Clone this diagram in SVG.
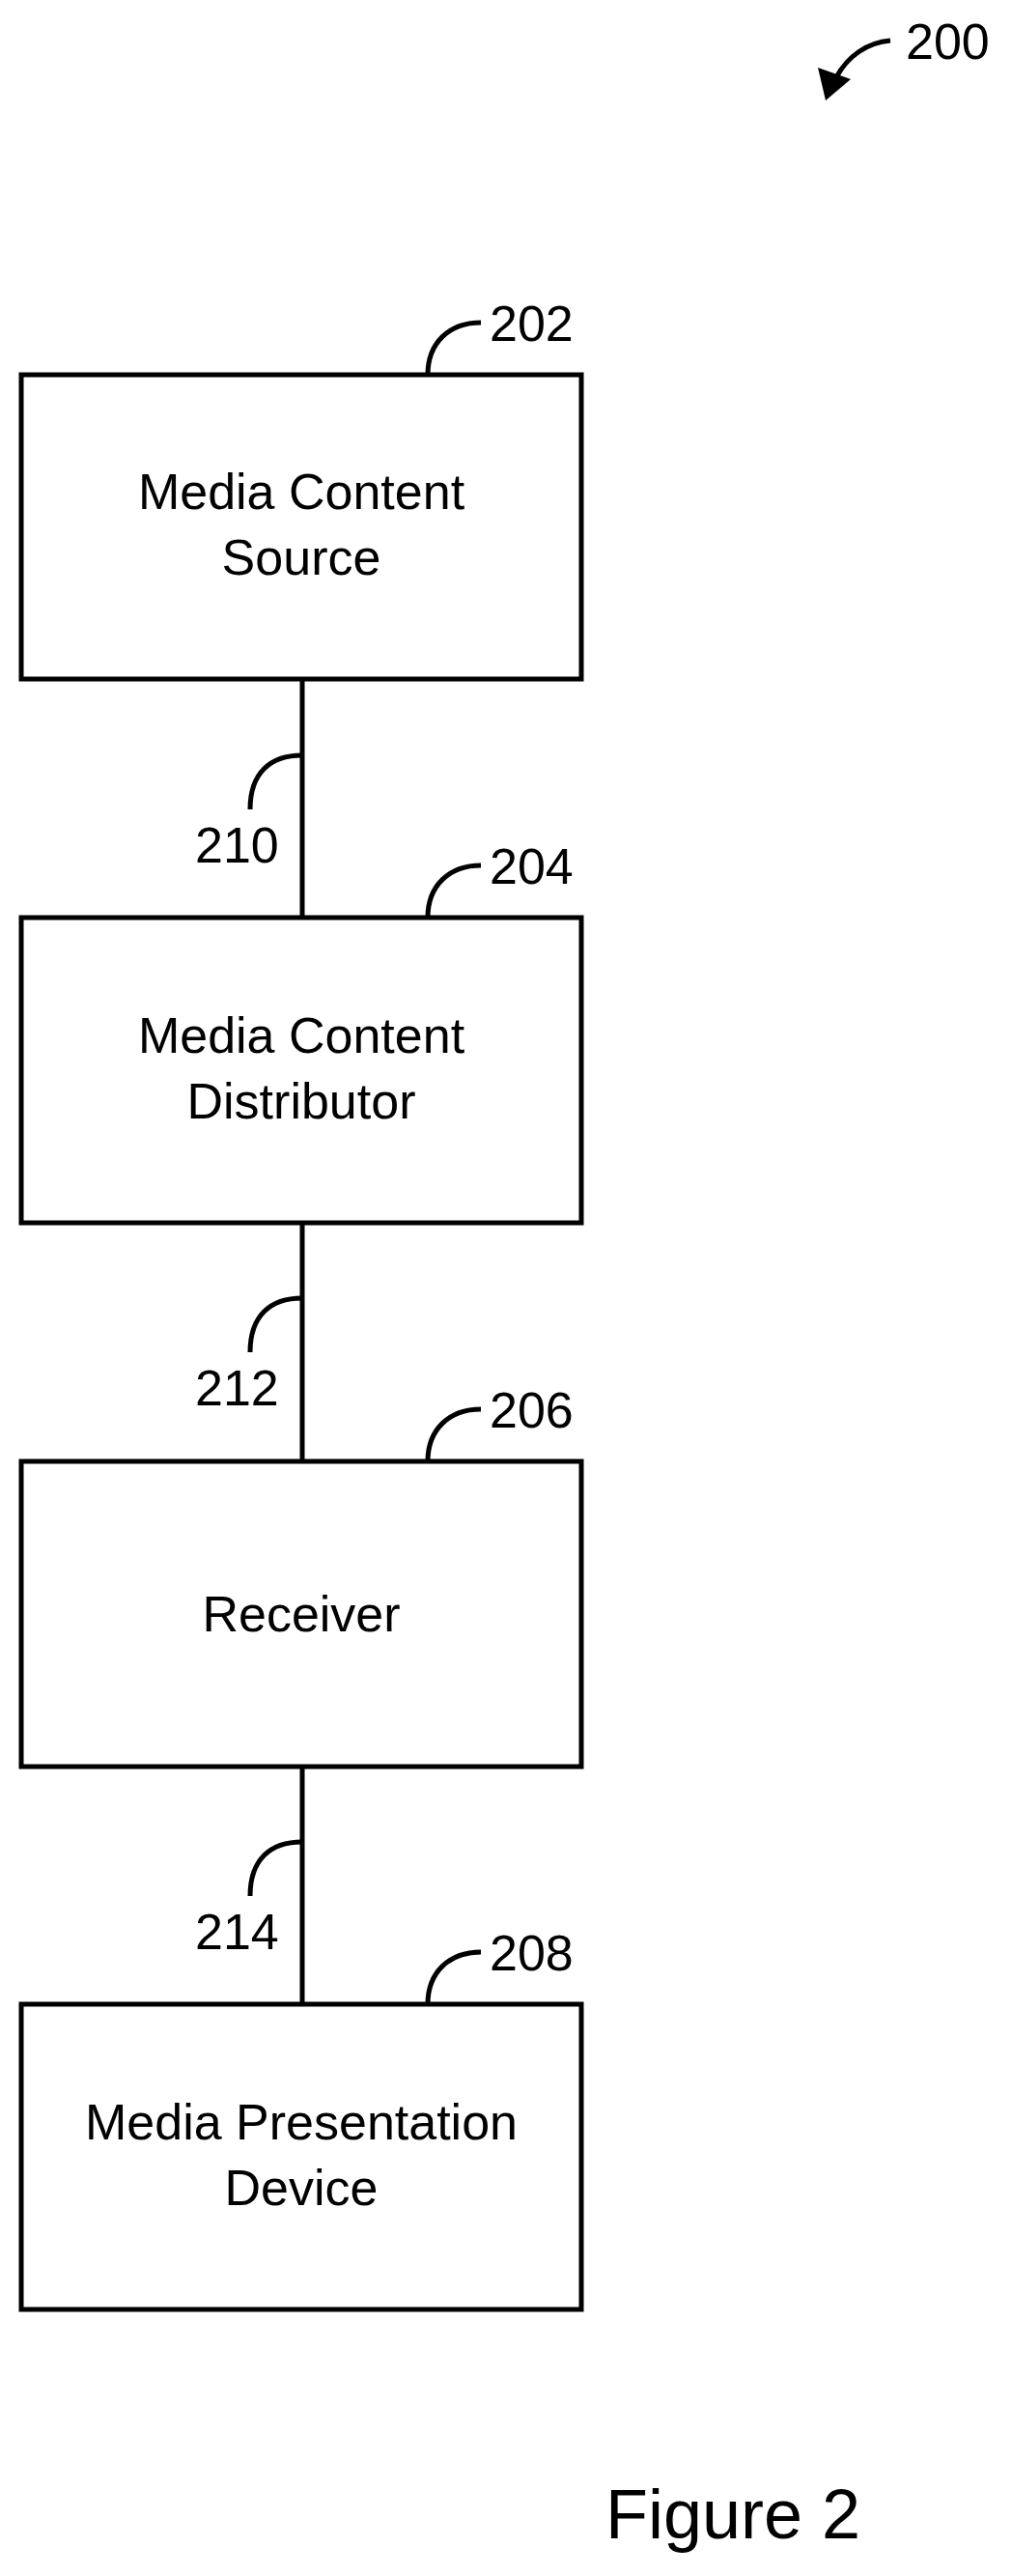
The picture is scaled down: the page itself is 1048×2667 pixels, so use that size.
<svg xmlns="http://www.w3.org/2000/svg" width="1048" height="2667" viewBox="0 0 1048 2667">
<style>
.box{fill:#fff;stroke:#000;stroke-width:5}
.ln{fill:none;stroke:#000;stroke-width:5}
.t{font-family:"Liberation Sans",Arial,sans-serif;font-size:52px;fill:#000}
.c{text-anchor:middle}
</style>
<rect width="1048" height="2667" fill="#fff"/>
<g id="ref200">
<path class="ln" d="M922,42 C898,44 878,58 866,80"/>
<polygon points="847,70 881,82 855,104" fill="#000"/>
<text class="t" x="938" y="61">200</text>
</g>
<g id="connectors">
<line class="ln" x1="313" y1="703" x2="313" y2="950"/>
<line class="ln" x1="313" y1="1266" x2="313" y2="1513"/>
<line class="ln" x1="313" y1="1829" x2="313" y2="2075"/>
<path class="ln" d="M313,782 C280,782 259,800 259,838"/>
<text class="t" x="202" y="893">210</text>
<path class="ln" d="M313,1344 C280,1344 259,1362 259,1400"/>
<text class="t" x="202" y="1455">212</text>
<path class="ln" d="M313,1907 C280,1907 259,1925 259,1963"/>
<text class="t" x="202" y="2018">214</text>
</g>
<g id="n202">
<rect class="box" x="22" y="388" width="580" height="315"/>
<path class="ln" d="M443,388 C443,355 465,334 498,334"/>
<text class="t" x="507" y="353">202</text>
<text class="t c" x="312" y="527">Media Content</text>
<text class="t c" x="312" y="595">Source</text>
</g>
<g id="n204">
<rect class="box" x="22" y="950" width="580" height="316"/>
<path class="ln" d="M443,950 C443,917 465,896 498,896"/>
<text class="t" x="507" y="915">204</text>
<text class="t c" x="312" y="1090">Media Content</text>
<text class="t c" x="312" y="1158">Distributor</text>
</g>
<g id="n206">
<rect class="box" x="22" y="1513" width="580" height="316"/>
<path class="ln" d="M443,1513 C443,1480 465,1459 498,1459"/>
<text class="t" x="507" y="1478">206</text>
<text class="t c" x="312" y="1689">Receiver</text>
</g>
<g id="n208">
<rect class="box" x="22" y="2075" width="580" height="316"/>
<path class="ln" d="M443,2075 C443,2042 465,2021 498,2021"/>
<text class="t" x="507" y="2040">208</text>
<text class="t c" x="312" y="2215">Media Presentation</text>
<text class="t c" x="312" y="2283">Device</text>
</g>
<text class="t" x="627" y="2628" style="font-size:72px">Figure 2</text>
</svg>
